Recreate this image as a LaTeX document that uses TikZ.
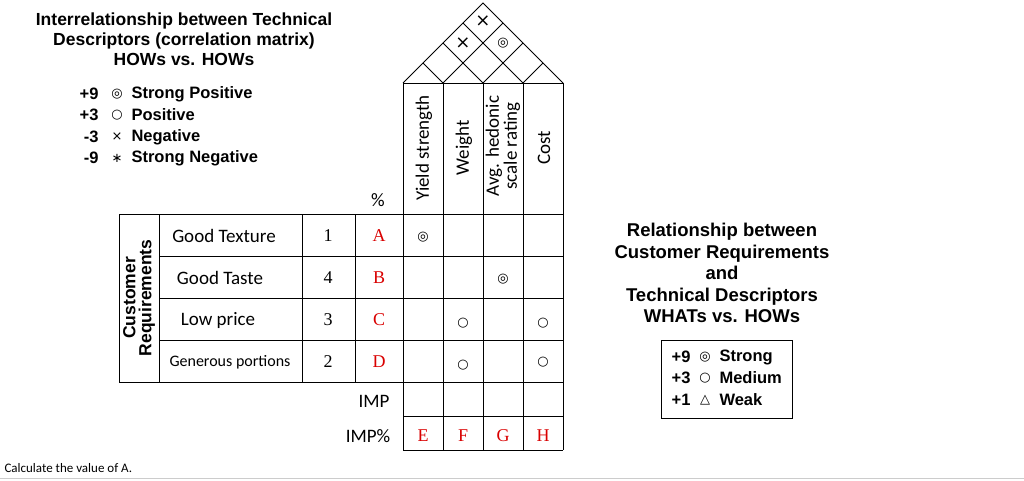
\documentclass[tikz,border=0pt]{standalone}
\usepackage{fontspec}
\setmainfont{Liberation Sans}
\newfontfamily\calfont{Carlito}
\newfontfamily\tmsfont{Liberation Serif}
\newfontfamily\djfont{DejaVu Sans}
\begin{document}
\begin{tikzpicture}[x=1pt,y=-1pt,
  ttl/.style={font=\bfseries\fontsize{17.5}{21}\selectfont,align=center},
  ttr/.style={font=\bfseries\fontsize{18.5}{22.5}\selectfont,align=center},
  cell/.style={font=\calfont\fontsize{19}{20}\selectfont},
  redl/.style={font=\tmsfont\fontsize{18}{18}\selectfont,text=red!85!black},
  num/.style={font=\tmsfont\fontsize{18}{18}\selectfont},
  sym/.style={font=\djfont\fontsize{13}{14}\selectfont},
  leg/.style={font=\bfseries\fontsize{16.5}{18}\selectfont},
  ln/.style={line width=0.9pt}]
\useasboundingbox (0,0) rectangle (1024,480);
% titles
\node[ttl] (t1) at (184,39) {Interrelationship between Technical\\[-1pt]Descriptors (correlation matrix)\\[-1pt]HOWs vs. HOWs};
\foreach \n/\s/\t/\y in {+9/◎/Strong Positive/94,+3/○/Positive/115,-3/×/Negative/137,-9/∗/Strong Negative/158}{
  \node[leg,anchor=east] (ln\y) at (102,\y) {\n};
  \node[sym] (ls\y) at (117,\y) {\s};
  \node[leg,anchor=west] (lt\y) at (128,\y) {\t};
}
\node[ttr] (t2) at (722,273) {Relationship between\\[-1pt]Customer Requirements\\[-1pt]and\\[-1pt]Technical Descriptors\\[-1pt]WHATs vs. HOWs};
\draw[ln] (661,340) rectangle (792,418);
\foreach \n/\s/\t/\y in {+9/◎/Strong/357,+3/○/Medium/378,+1/△/Weak/400}{
  \node[leg,anchor=east] (rn\y) at (694,\y) {\n};
  \node[sym] (rs\y) at (705,\y) {\s};
  \node[leg,anchor=west] (rt\y) at (716,\y) {\t};
}
% roof
\draw[ln] (403,83) -- (483,3) -- (563,83);
\foreach \a in {443,483,523}{
  \draw[ln] (\a,83) -- ({(\a+563)/2},{83-(563-\a)/2});
  \draw[ln] (\a,83) -- ({(\a+403)/2},{83-(\a-403)/2});
}
\node[sym,font=\djfont\fontsize{18}{18}\selectfont] (x1) at (463,43) {×};
\node[sym,font=\djfont\fontsize{18}{18}\selectfont] (x2) at (483,21) {×};
\node[sym] (d1) at (503,43) {◎};
% header columns
\draw[ln] (403,83) -- (563,83);
\foreach \a in {403,443,483,523,563}{\draw[ln] (\a,83) -- (\a,450);}
\node[cell,rotate=90] (h1) at (424,148) {Yield strength};
\node[cell,rotate=90] (h2) at (464,148) {Weight};
\node[cell,rotate=90,align=center] (h3) at (503,146) {Avg. hedonic\\[-2pt]scale rating};
\node[cell,rotate=90] (h4) at (544,148) {Cost};
\node[cell] (pc) at (378,200) {\%};
% left table
\draw[ln] (119,214) rectangle (403,382);
\foreach \y in {256,298,340}{\draw[ln] (159,\y) -- (563,\y);}
\draw[ln] (403,214) -- (563,214);
\draw[ln] (403,382) -- (563,382) (403,416) -- (563,416) (403,450) -- (563,450);
\foreach \a in {159,302,355}{\draw[ln] (\a,214) -- (\a,382);}
\node[rotate=90,font=\bfseries\fontsize{17.5}{16}\selectfont,align=center] (cr) at (139,298) {Customer\\Requirements};
\foreach \t/\y/\x in {Good Texture/236/224,Good Taste/278/220,Low price/320/218}{
  \node[cell] (c\y) at (\x,\y) {\t};
}
\foreach \n/\l/\y in {1/A/236,4/B/278,3/C/320,2/D/362}{
  \node[num] (n\y) at (328,\y) {\n};
  \node[redl] (r\y) at (379,\y) {\l};
}
\node[font=\calfont\fontsize{16}{16}\selectfont] (c362) at (230,362) {Generous portions};
\node[sym] (m1) at (423,237) {◎};
\node[sym] (m2) at (503,279) {◎};
\node[sym] (m3) at (463,323) {○};
\node[sym] (m4) at (543,323) {○};
\node[sym] (m5) at (463,365) {○};
\node[sym] (m6) at (543,362) {○};
\node[cell] (imp) at (374,401) {IMP};
\node[cell] (impp) at (368,436) {IMP\%};
\foreach \l/\x in {E/423,F/463,G/503,H/543}{\node[redl] (i\l) at (\x,436) {\l};}
\node[anchor=west,font=\calfont\fontsize{13}{14}\selectfont] (q) at (1,468) {Calculate the value of A.};
\draw[gray!40,line width=1pt] (0,478) -- (1024,478);
\end{tikzpicture}
\end{document}
